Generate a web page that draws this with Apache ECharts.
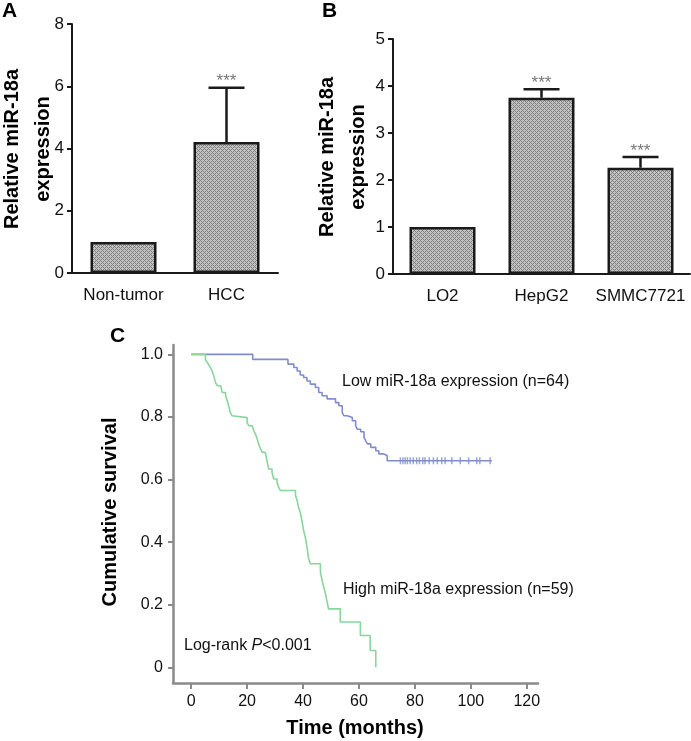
<!DOCTYPE html>
<html><head><meta charset="utf-8">
<script src="https://cdn.jsdelivr.net/npm/echarts@6/dist/echarts.min.js"></script>
<style>html,body{margin:0;padding:0;background:#fff}#c{width:691px;height:741px}</style>
</head><body><div id="c"></div>
<script>
// ---------- DATA ----------
const catsA = ['Non-tumor', 'HCC'];
const meanA = [1.0, 4.21];
const errA = [0, 1.74];
const starsA = ['', '***'];

const catsB = ['LO2', 'HepG2', 'SMMC7721'];
const meanB = [1.0, 3.75, 2.26];
const errB = [0, 0.18, 0.23];
const starsB = ['', '***', '***'];

const yTicksC = [0, 0.2, 0.4, 0.6, 0.8, 1.0];
const xTicksC = [0, 20, 40, 60, 80, 100, 120];

const lowTimes = [0, 22.0, 34.6, 36.7, 37.9, 39.0, 40.2, 41.4, 42.6, 44.4, 45.6, 46.8, 48.6, 51.6, 52.8, 54.0, 54.6, 55.8, 57.6, 58.8, 59.4, 60.6, 61.8, 62.4, 63.0, 64.2, 66.0, 67.1, 68.9, 70.1, 107.5];
const lowSurv  = [1.0, 0.984, 0.969, 0.958, 0.947, 0.934, 0.926, 0.915, 0.905, 0.894, 0.878, 0.868, 0.858, 0.846, 0.836, 0.814, 0.804, 0.798, 0.788, 0.772, 0.761, 0.753, 0.735, 0.724, 0.714, 0.703, 0.692, 0.682, 0.676, 0.660, 0.660];
const lowCensor = [74.8, 75.7, 76.5, 77.3, 78.3, 79.4, 80.6, 81.6, 82.8, 83.6, 85.1, 86.6, 88.0, 89.6, 90.8, 93.2, 96.2, 99.2, 102.1, 103.2, 106.9];

const highTimes = [0, 5.1, 5.7, 6.3, 6.9, 7.5, 8.1, 8.7, 9.3, 10.5, 11.1, 12.3, 12.9, 13.4, 14.0, 14.6, 15.2, 20.0, 20.6, 21.8, 22.4, 23.0, 23.6, 24.1, 24.8, 25.4, 26.5, 27.1, 27.7, 28.9, 29.5, 30.7, 31.3, 31.9, 37.3, 37.9, 38.4, 39.0, 39.6, 40.2, 40.8, 41.4, 42.0, 42.6, 46.2, 46.8, 47.4, 48.0, 48.5, 49.1, 53.3, 60.5, 64.0, 66.0];
const highSurv  = [1.0, 0.983, 0.975, 0.966, 0.958, 0.947, 0.931, 0.910, 0.900, 0.894, 0.878, 0.868, 0.852, 0.836, 0.814, 0.804, 0.798, 0.782, 0.772, 0.766, 0.756, 0.745, 0.730, 0.714, 0.698, 0.687, 0.682, 0.660, 0.634, 0.623, 0.602, 0.591, 0.575, 0.565, 0.549, 0.533, 0.511, 0.495, 0.469, 0.437, 0.416, 0.384, 0.347, 0.331, 0.304, 0.278, 0.256, 0.235, 0.214, 0.187, 0.145, 0.102, 0.054, 0.0];

// ---------- CHART ----------
const FF = '"Liberation Sans", Arial, sans-serif';
const chart = echarts.init(document.getElementById('c'), null, {renderer: 'canvas'});

const pc = document.createElement('canvas');
pc.width = 4; pc.height = 4;
const g = pc.getContext('2d');
g.fillStyle = '#c2c2c2'; g.fillRect(0, 0, 4, 4);
g.fillStyle = '#808080';
for (let x = 0; x < 4; x++) for (let y = 0; y < 4; y++) if ((x % 2 === 0) !== (y % 2 === 0) ? false : (x + y) % 4 === 0 || (x + y) % 4 === 2 && x % 2 === 1) g.fillRect(x, y, 1, 1);
const pattern = {image: pc, repeat: 'repeat'};

function stepSurv(times, surv, t) {
  let s = surv[0];
  for (let i = 0; i < times.length; i++) if (times[i] <= t) s = surv[i];
  return s;
}

function makeErr(stars) {
  return function (params, api) {
    const idx = api.value(0), m = api.value(1), top = api.value(2);
    const children = [];
    if (top > m) {
      const p0 = api.coord([idx, m]);
      const p1 = api.coord([idx, top]);
      const ls = {stroke: '#1a1a1a', lineWidth: 2.5};
      children.push({type: 'line', shape: {x1: p0[0], y1: p0[1], x2: p1[0], y2: p1[1]}, style: ls});
      children.push({type: 'line', shape: {x1: p1[0] - 18, y1: p1[1], x2: p1[0] + 18, y2: p1[1]}, style: ls});
    }
    const st = stars[params.dataIndex];
    if (st) {
      const p1 = api.coord([idx, top]);
      children.push({type: 'text', style: {text: st, x: p1[0], y: p1[1] - 6, align: 'center', verticalAlign: 'middle', textAlign: 'center', textVerticalAlign: 'middle', fill: '#777', font: '17px ' + FF}});
    }
    return {type: 'group', children: children};
  };
}

const barAxisLine = {lineStyle: {color: '#1a1a1a', width: 2}};
const barLabel = {fontSize: 17, color: '#111', fontFamily: FF};
const cAxisLine = {onZero: false, lineStyle: {color: '#8a8a8a', width: 2.5}};

const option = {
  animation: false,
  backgroundColor: '#fff',
  grid: [
    {left: 72, top: 24, width: 206, height: 249},
    {left: 393, top: 39, width: 297, height: 235},
    {left: 173, top: 345, width: 365, height: 338}
  ],
  xAxis: [
    {gridIndex: 0, type: 'category', data: catsA, axisLine: barAxisLine,
     axisTick: {alignWithLabel: true, length: 7, lineStyle: {color: '#1a1a1a', width: 2}},
     axisLabel: Object.assign({margin: 14, interval: 0}, barLabel)},
    {gridIndex: 1, type: 'category', data: catsB, axisLine: barAxisLine,
     axisTick: {alignWithLabel: true, length: 7, lineStyle: {color: '#1a1a1a', width: 2}},
     axisLabel: Object.assign({margin: 14, interval: 0}, barLabel)},
    {gridIndex: 2, type: 'value', min: -6.5, max: 124, axisLine: cAxisLine,
     splitLine: {show: false},
     axisTick: {customValues: xTicksC, length: 6, lineStyle: {color: '#8a8a8a', width: 2}},
     axisLabel: {customValues: xTicksC, fontSize: 16, color: '#111', margin: 11, fontFamily: FF}}
  ],
  yAxis: [
    {gridIndex: 0, type: 'value', min: 0, max: 8, interval: 2, axisLine: Object.assign({show: true}, barAxisLine),
     axisTick: {show: true, length: 5, lineStyle: {color: '#1a1a1a', width: 2}}, splitLine: {show: false},
     axisLabel: Object.assign({margin: 8}, barLabel)},
    {gridIndex: 1, type: 'value', min: 0, max: 5, interval: 1, axisLine: Object.assign({show: true}, barAxisLine),
     axisTick: {show: true, length: 5, lineStyle: {color: '#1a1a1a', width: 2}}, splitLine: {show: false},
     axisLabel: Object.assign({margin: 8}, barLabel)},
    {gridIndex: 2, type: 'value', min: -0.05, max: 1.03, axisLine: Object.assign({show: true}, cAxisLine),
     splitLine: {show: false},
     axisTick: {show: true, customValues: yTicksC, length: 5, lineStyle: {color: '#8a8a8a', width: 2}},
     axisLabel: {customValues: yTicksC, fontSize: 16, color: '#111', margin: 10, fontFamily: FF,
       formatter: v => (Math.abs(v) < 1e-9 ? '0' : v.toFixed(1))}}
  ],
  series: [
    {type: 'bar', xAxisIndex: 0, yAxisIndex: 0, data: meanA, barWidth: 66,
     itemStyle: {color: pattern, borderColor: '#1a1a1a', borderWidth: 2.5}},
    {type: 'custom', xAxisIndex: 0, yAxisIndex: 0, renderItem: makeErr(starsA), z: 5,
     data: meanA.map((m, i) => [i, m, m + errA[i]]), encode: {x: 0, y: [1, 2]}},
    {type: 'bar', xAxisIndex: 1, yAxisIndex: 1, data: meanB, barWidth: 66,
     itemStyle: {color: pattern, borderColor: '#1a1a1a', borderWidth: 2.5}},
    {type: 'custom', xAxisIndex: 1, yAxisIndex: 1, renderItem: makeErr(starsB), z: 5,
     data: meanB.map((m, i) => [i, m, m + errB[i]]), encode: {x: 0, y: [1, 2]}},
    {type: 'line', xAxisIndex: 2, yAxisIndex: 2, step: 'end', showSymbol: false,
     data: lowTimes.map((t, i) => [t, lowSurv[i]]), lineStyle: {color: '#7f8ecb', width: 1.6}},
    {type: 'line', xAxisIndex: 2, yAxisIndex: 2, step: 'end', showSymbol: false,
     data: highTimes.map((t, i) => [t, highSurv[i]]), lineStyle: {color: '#88d69c', width: 1.6}},
    {type: 'scatter', xAxisIndex: 2, yAxisIndex: 2, symbol: 'rect', symbolSize: [1.5, 7],
     data: lowCensor.map(t => [t, stepSurv(lowTimes, lowSurv, t)]), itemStyle: {color: '#7f8ecb'}}
  ],
  graphic: [
    {type: 'text', x: 2, y: 11, style: {text: 'A', font: 'bold 21px ' + FF, fill: '#000', verticalAlign: 'middle', textVerticalAlign: 'middle'}},
    {type: 'text', x: 322, y: 11, style: {text: 'B', font: 'bold 21px ' + FF, fill: '#000', verticalAlign: 'middle', textVerticalAlign: 'middle'}},
    {type: 'text', x: 110, y: 336, style: {text: 'C', font: 'bold 21px ' + FF, fill: '#000', verticalAlign: 'middle', textVerticalAlign: 'middle'}},
    {type: 'text', x: 27.5, y: 149, rotation: Math.PI / 2,
     style: {text: 'Relative miR-18a\nexpression', font: 'bold 20px ' + FF, lineHeight: 31, fill: '#000',
             align: 'center', verticalAlign: 'middle', textAlign: 'center', textVerticalAlign: 'middle'}},
    {type: 'text', x: 343, y: 157, rotation: Math.PI / 2,
     style: {text: 'Relative miR-18a\nexpression', font: 'bold 20px ' + FF, lineHeight: 31, fill: '#000',
             align: 'center', verticalAlign: 'middle', textAlign: 'center', textVerticalAlign: 'middle'}},
    {type: 'text', x: 110, y: 512, rotation: Math.PI / 2,
     style: {text: 'Cumulative survival', font: 'bold 20px ' + FF, fill: '#000',
             align: 'center', verticalAlign: 'middle', textAlign: 'center', textVerticalAlign: 'middle'}},
    {type: 'text', x: 355, y: 728,
     style: {text: 'Time (months)', font: 'bold 20px ' + FF, fill: '#000',
             align: 'center', verticalAlign: 'middle', textAlign: 'center', textVerticalAlign: 'middle'}},
    {type: 'text', x: 342, y: 382,
     style: {text: 'Low miR-18a expression (n=64)', font: '16px ' + FF, fill: '#111', verticalAlign: 'middle', textVerticalAlign: 'middle'}},
    {type: 'text', x: 343, y: 590,
     style: {text: 'High miR-18a expression (n=59)', font: '16px ' + FF, fill: '#111', verticalAlign: 'middle', textVerticalAlign: 'middle'}},
    {type: 'text', x: 184, y: 646,
     style: {text: '{a|Log-rank }{b|P}{a|<0.001}', verticalAlign: 'middle', textVerticalAlign: 'middle',
             rich: {a: {font: '16px ' + FF, fill: '#111', color: '#111'}, b: {font: 'italic 16px ' + FF, fill: '#111', color: '#111', fontStyle: 'italic'}}}}
  ]
};
chart.setOption(option);
</script>
</body></html>
